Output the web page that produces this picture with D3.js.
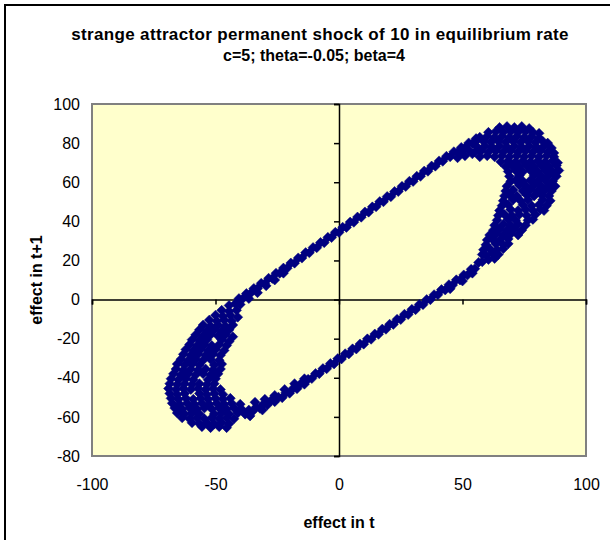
<!DOCTYPE html>
<html>
<head>
<meta charset="utf-8">
<script src="https://d3js.org/d3.v7.min.js"></script>
<style>
  body { margin: 0; background: #fff; }
  svg { display: block; font-family: "Liberation Sans", Arial, sans-serif; }
</style>
</head>
<body>
<div id="chart"></div>
<script>
// ticks
var xTicks = [-100, -50, 0, 50, 100];
var yTicks = [-80, -60, -40, -20, 0, 20, 40, 60, 80, 100];

// points: [effect in t, effect in t+1]
var upperBand = [
  [-42,-2.2],[-40.5,0.5],[-39,0.4],[-37.5,3.1],[-36,3.0],[-34.5,5.7],[-33,5.6],[-31.5,8.3],[-30,8.2],[-28.5,10.9],
  [-27,10.8],[-25.5,13.5],[-24,13.4],[-22.5,16.1],[-21,16.0],[-19.5,18.7],[-18,18.6],[-16.5,21.3],[-15,21.2],[-13.5,24.0],
  [-12,23.9],[-10.5,26.6],[-9,26.5],[-7.5,29.2],[-6,29.1],[-4.5,31.8],[-3,31.7],[-1.5,34.4],[0,34.3],[1.5,37.0],
  [3,36.9],[4.5,39.6],[6,39.5],[7.5,42.2],[9,42.1],[10.5,44.8],[12,44.7],[13.5,47.4],[15,47.4],[16.5,50.1],
  [18,50.0],[19.5,52.7],[21,52.6],[22.5,55.3],[24,55.2],[25.5,57.9],[27,57.8],[28.5,60.5],[30,60.4],[31.5,63.1],
  [33,63.0],[34.5,65.7],[36,65.6],[37.5,68.3],[39,68.2],[40.5,70.9],[42,70.7],[43.5,73.3],[45,73.0],[46.5,75.6],
  [48,75.3],[49.5,77.8],[51,77.6],[52.5,80.1],[54,79.8],[55.5,82.3],
  [-40,-2.5],[-36.5,0.5],[-33,3.5],[-29.5,7],[-26,10],[-22.5,13.5],
  [48,72.5],[51,73.5],[54,74.5],[57,76],[52.5,76.5],[49.5,75]
];

var lowerBand = [
  [-38,-58.6],[-36.5,-56.5],[-35,-57.2],[-33.5,-55.0],[-32,-55.6],[-30.5,-53.3],[-29,-53.9],[-27.5,-51.6],[-26,-52.2],[-24.5,-49.9],
  [-23,-50.2],[-21.5,-47.6],[-20,-47.9],[-18.5,-45.3],[-17,-45.6],[-15.5,-43.1],[-14,-43.3],[-12.5,-40.8],[-11,-40.4],[-9.5,-37.8],
  [-8,-37.9],[-6.5,-35.3],[-5,-35.4],[-3.5,-32.7],[-2,-32.9],[-0.5,-30.2],[1,-30.4],[2.5,-27.7],[4,-27.8],[5.5,-25.2],
  [7,-25.3],[8.5,-22.7],[10,-22.8],[11.5,-20.1],[13,-20.3],[14.5,-17.6],[16,-17.8],[17.5,-15.1],[19,-15.2],[20.5,-12.6],
  [22,-12.7],[23.5,-10.1],[25,-10.2],[26.5,-7.5],[28,-7.7],[29.5,-5.0],[31,-5.2],[32.5,-2.5],[34,-2.6],[35.5,0.0],
  [37,-0.1],[38.5,2.5],[40,2.4],[41.5,5.1],[43,4.9],[44.5,7.6],[46,7.4],[47.5,10.1],[49,10.0],[50.5,12.6],
  [52,12.5],[53.5,15.5],[55,15.8],[56.5,19.0],[58,19.3],[59.5,22.7],
  [-34,-52.5],[-30,-51],[-26,-49],[-22,-46],[-18,-43],[-14,-40.5],[-36,-59.5],[-31,-56.5],
  [45,5.5],[50,9.5],[54,13.5]
];

var leftLobe = [
  [-44.5,-3],[-47.5,-5.5],[-44.5,-6],[-41.5,-5.5],
  [-50,-8],[-47,-8.5],[-44,-8],[-41,-9],
  [-52.5,-10.5],[-49.5,-11],[-46.5,-10.5],[-43.5,-11],
  [-55,-13],[-52,-13.5],[-49,-13],[-46,-13.5],[-43,-13],
  [-56.5,-15.5],[-53.5,-16],[-50.5,-15.5],[-47.5,-16],[-44.5,-15.5],
  [-58,-18],[-55,-18.5],[-52,-18],[-49,-18.5],[-46,-18],[-43,-19],
  [-59.5,-20.5],[-56.5,-21],[-53.5,-20.5],[-47.5,-20.5],[-44.5,-21.5],
  [-60.5,-23],[-57.5,-23.5],[-54.5,-23],[-51.5,-23.5],[-48.5,-23],[-45.5,-23.5],
  [-62,-25.5],[-59,-26],[-56,-25.5],[-53,-26],[-50,-25.5],[-46.5,-26],
  [-63,-28],[-60,-28.5],[-57,-28],[-54,-28.5],[-51,-28],[-48,-28.5],
  [-64,-30.5],[-61,-31],[-58,-30.5],[-55,-31],[-52,-30.5],[-48.5,-31],
  [-65.5,-33],[-62.5,-33.5],[-59.5,-33],[-56.5,-33.5],[-50.5,-33.5],[-47.5,-33],
  [-66,-35.5],[-63,-36],[-60,-35.5],[-57,-36],[-54,-35.5],[-51,-36],[-48,-35.5],
  [-67,-38],[-64,-38.5],[-61,-38],[-58,-38.5],[-55,-38],[-52,-38.5],[-49,-38],
  [-68,-40.5],[-65,-41],[-62,-40.5],[-59,-41],[-53,-41],[-50,-40.5],
  [-68.5,-43],[-65.5,-43.5],[-62.5,-43],[-59.5,-43.5],[-56.5,-43],[-53.5,-43.5],[-50.5,-43],
  [-69,-45.5],[-66,-46],[-63,-45.5],[-60,-46],[-57,-45.5],[-54,-46],[-51,-45.5],[-48,-46],
  [-68.5,-48],[-65.5,-48.5],[-62.5,-48],[-56.5,-48],[-53.5,-48.5],[-50.5,-48],[-47,-48.5],
  [-68,-50.5],[-65,-51],[-62,-50.5],[-59,-51],[-56,-50.5],[-53,-51],[-50,-50.5],[-47,-51],[-44,-50.5],
  [-67.5,-53],[-64.5,-53.5],[-61.5,-53],[-58.5,-53.5],[-55.5,-53],[-52.5,-53.5],[-49.5,-53],[-46.5,-53.5],[-43.5,-53],[-40,-53.5],
  [-66.5,-55.5],[-63.5,-56],[-60.5,-55.5],[-57.5,-56],[-54.5,-55.5],[-51.5,-56],[-48.5,-55.5],[-45.5,-56],[-42.5,-55.5],[-39.5,-56],
  [-65.5,-58],[-62.5,-58.5],[-59.5,-58],[-56.5,-58.5],[-50.5,-58.5],[-47.5,-58],[-44.5,-58.5],[-41,-58],
  [-63.5,-60.5],[-60.5,-61],[-57.5,-60.5],[-54.5,-61],[-51.5,-60.5],[-48.5,-61],[-45.5,-60.5],[-42.5,-61],
  [-59.5,-63],[-56.5,-63.5],[-53.5,-63],[-50.5,-63.5],[-47.5,-63],[-44.5,-63.5],
  [-55.5,-65],[-52,-65.5],[-48.5,-65],[-45.5,-65.5]
];

var rightLobe = [
  [65,88],[68,88.5],[71,88],[74,88.5],[77,87.5],
  [60.5,85.5],[63.5,86],[66.5,85.5],[69.5,86],[72.5,85.5],[75.5,86],[78.5,85.5],[81,85],
  [57,83],[60,83.5],[63,83],[66,83.5],[69,83],[72,83.5],[75,83],[78,83.5],[81,82.5],
  [55,80.5],[58.5,81],[61.5,80.5],[64.5,81],[67.5,80.5],[70.5,81],[73.5,80.5],[76.5,81],[79.5,80.5],[82.5,81],[84.5,80],
  [56,78],[59,78.5],[62,78],[65,78.5],[68,78],[71,78.5],[74,78],[77,78.5],[80,78],[83,78.5],[86,77.5],
  [55,75.5],[57.5,76],[60.5,75.5],[63.5,76],[66.5,75.5],[69.5,76],[72.5,75.5],[75.5,76],[78.5,75.5],[81.5,76],[84.5,75.5],[87,75],
  [57,73],[60,73.5],[63,73],[66,73.5],[69,73],[72,73.5],[75,73],[78,73.5],[81,73],[84,73.5],[87,73],
  [65.5,70.5],[68.5,71],[71.5,70.5],[74.5,71],[77.5,70.5],[80.5,71],[83.5,70.5],[86.5,71],[88.5,70],
  [67.5,68],[70,68.5],[73,68],[76,68.5],[79,68],[82,68.5],[85,68],[88,68.5],
  [68.5,65.5],[71.5,66],[74.5,65.5],[77.5,66],[80.5,65.5],[83.5,66],[86.5,65.5],[89,66],
  [69,63],[73,63.5],[79,63.5],[82,63],[85,63.5],[88,63],
  [69.5,60.5],[71.5,61],[74.5,60.5],[77.5,61],[80.5,60.5],[83.5,61],[86.5,60.5],
  [68,58],[73,58.5],[76,58],[79,58.5],[82,58],[85,58.5],[87.5,58],
  [67.5,55.5],[70.5,56],[74.5,55.5],[77.5,56],[80.5,55.5],[83.5,56],[86,55.5],
  [67,53],[69,53.5],[72,53],[76,53.5],[79,53],[82,53.5],[85,53],
  [66.5,50.5],[70.5,51],[73.5,50.5],[76.5,51],[82.5,51],[85.5,50.5],
  [66,48],[68.5,48.5],[74.5,48.5],[78,48],[81,48.5],[84,48],
  [65,45.5],[69.5,46],[72.5,45.5],[75.5,46],[78.5,45.5],[81.5,46],[83,45.5],
  [64.5,43],[67,43.5],[70,43],[73,43.5],[76,43],[79.5,43.5],
  [64,40.5],[68.5,41],[71.5,40.5],[76.5,40.5],[78.5,41],
  [63,38],[66.5,38.5],[69.5,38],[72.5,38.5],[75.5,38],
  [62.5,35.5],[65,36],[68,35.5],[71,36],[74,35.5],
  [61,33],[63.5,33.5],[66.5,33],[69.5,33.5],[72.5,33],
  [60,30.5],[62,31],[65,30.5],[68.5,31],
  [59.5,28],[63.5,28.5],[66.5,28],[68.5,28.5],
  [58.5,25.5],[61,26],[64,25.5],[66.5,26],
  [58,23],[62,23.5],[64.5,23],
  [60.5,20.5],[63,21]
];

var points = upperBand.concat(lowerBand, leftLobe, rightLobe);

var width = 610;
var height = 540;
var plot = { left: 92, right: 586, top: 104, bottom: 456 };

var svg = d3.select("#chart")
  .append("svg")
  .attr("width", width)
  .attr("height", height);

// chart frame (runs past the right and bottom edge)
svg.append("rect")
  .attr("x", 5).attr("y", 5)
  .attr("width", 640).attr("height", 580)
  .attr("fill", "#fff")
  .attr("stroke", "#000")
  .attr("stroke-width", 2);

var x = d3.scaleLinear().domain([-100, 100]).range([plot.left, plot.right]);
var y = d3.scaleLinear().domain([-80, 100]).range([plot.bottom, plot.top]);

// plot area
svg.append("rect")
  .attr("x", plot.left).attr("y", plot.top)
  .attr("width", plot.right - plot.left)
  .attr("height", plot.bottom - plot.top)
  .attr("fill", "#ffffcc")
  .attr("stroke", "#808080")
  .attr("stroke-width", 2);

// axes crossing at zero
svg.append("g")
  .attr("transform", `translate(0, ${y(0)})`)
  .call(d3.axisBottom(x).tickValues(xTicks).tickSize(5).tickFormat(""));
svg.append("g")
  .attr("transform", `translate(${x(0)}, 0)`)
  .call(d3.axisLeft(y).tickValues(yTicks).tickSize(5).tickFormat(""));
svg.selectAll(".domain").attr("stroke", "#000").attr("stroke-width", 1.5);
svg.selectAll(".tick line").attr("stroke", "#000").attr("stroke-width", 1.5);

// tick labels at the low side of the plot
var plain = function (d) { return String(d); };
var xLabels = svg.append("g")
  .attr("transform", `translate(0, ${plot.bottom})`)
  .call(d3.axisBottom(x).tickValues(xTicks).tickSize(0).tickPadding(23).tickFormat(plain));
var yLabels = svg.append("g")
  .attr("transform", `translate(${plot.left}, 0)`)
  .call(d3.axisLeft(y).tickValues(yTicks).tickSize(0).tickPadding(12).tickFormat(plain));
[xLabels, yLabels].forEach(function (g) {
  g.select(".domain").remove();
  g.selectAll("text")
    .attr("fill", "#000")
    .style("font-size", "16px")
    .style("font-family", "'Liberation Sans', Arial, sans-serif");
});

// markers
var r = 5;
svg.append("g")
  .selectAll("path")
  .data(points)
  .enter()
  .append("path")
  .attr("d", function (d) {
    var cx = x(d[0]), cy = y(d[1]);
    return `M${cx},${cy - r}L${cx + r},${cy}L${cx},${cy + r}L${cx - r},${cy}Z`;
  })
  .attr("fill", "#000080")
  .attr("stroke", "#000080")
  .attr("stroke-width", 0.5);

// titles
svg.append("text")
  .attr("x", 320).attr("y", 40)
  .attr("text-anchor", "middle")
  .style("font-size", "17px").style("font-weight", "bold")
  .style("letter-spacing", "0.35px")
  .text("strange attractor permanent shock of 10 in equilibrium rate");
svg.append("text")
  .attr("x", 314).attr("y", 61)
  .attr("text-anchor", "middle")
  .style("font-size", "16px").style("font-weight", "bold")
  .text("c=5; theta=-0.05; beta=4");

svg.append("text")
  .attr("x", 339).attr("y", 528)
  .attr("text-anchor", "middle")
  .style("font-size", "16px").style("font-weight", "bold")
  .text("effect in t");

svg.append("text")
  .attr("transform", `translate(42, ${(plot.top + plot.bottom) / 2}) rotate(-90)`)
  .attr("text-anchor", "middle")
  .style("font-size", "16px").style("font-weight", "bold")
  .text("effect in t+1");
</script>
</body>
</html>
